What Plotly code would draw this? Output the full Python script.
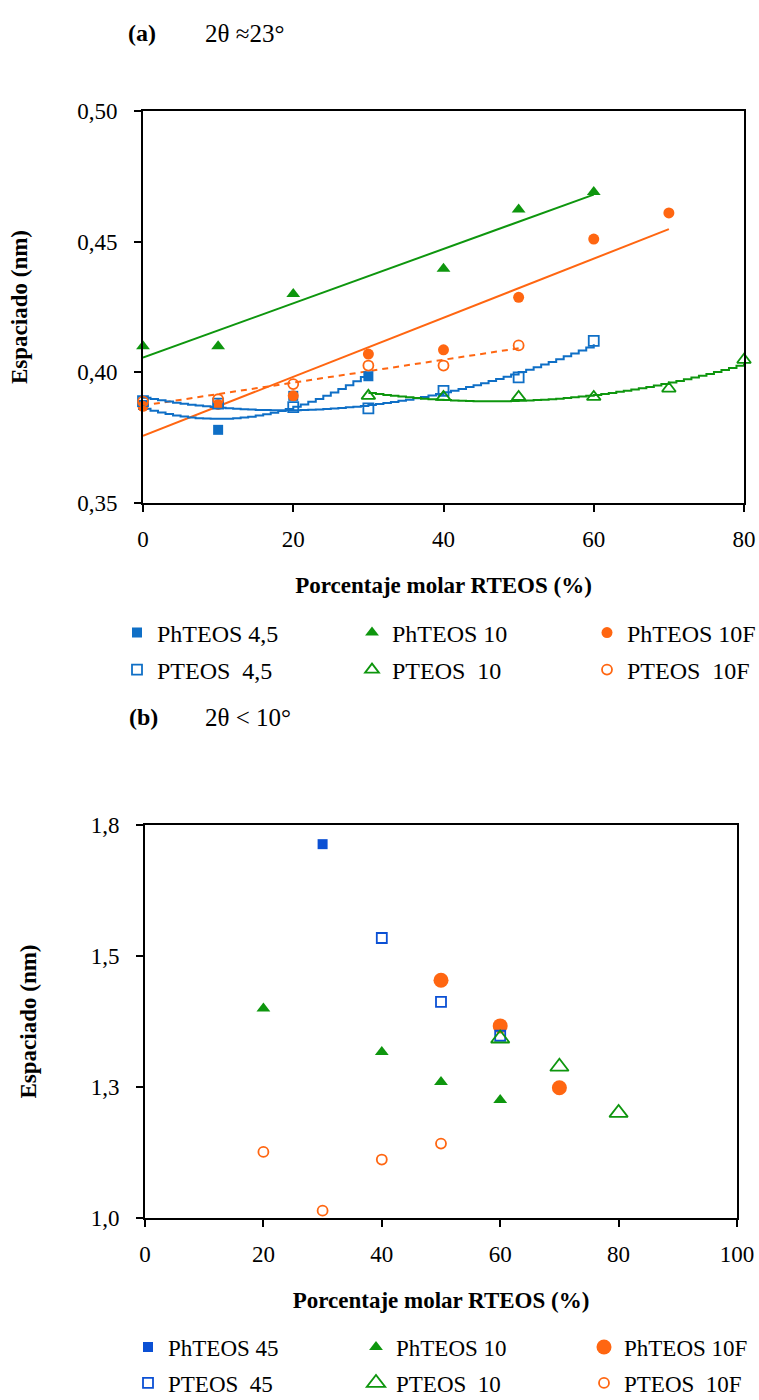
import numpy as np
import plotly.graph_objects as go

# ---------------- Panel (a): 2θ ≈ 23° ----------------
x_a_ph45 = [0, 10, 20, 30]
y_a_ph45 = [0.3875, 0.378, 0.391, 0.3985]
x_a_p45 = [0, 10, 20, 30, 40, 50, 60]
y_a_p45 = [0.389, 0.388, 0.3867, 0.3862, 0.3929, 0.3981, 0.412]
x_a_ph10 = [0, 10, 20, 40, 50, 60]
y_a_ph10 = [0.410, 0.410, 0.430, 0.4396, 0.4623, 0.469]
x_a_p10 = [30, 40, 50, 60, 70, 80]
y_a_p10 = [0.391, 0.3906, 0.3906, 0.3906, 0.3938, 0.4048]
x_a_ph10f = [0, 10, 20, 30, 40, 50, 60, 70]
y_a_ph10f = [0.387, 0.3877, 0.391, 0.407, 0.4086, 0.4287, 0.451, 0.461]
x_a_p10f = [0, 10, 20, 30, 40, 50]
y_a_p10f = [0.3888, 0.3897, 0.3955, 0.4026, 0.4026, 0.4103]

# ---------------- Panel (b): 2θ < 10° ----------------
x_b_ph45 = [30]
y_b_ph45 = [1.761]
x_b_p45 = [40, 50, 60]
y_b_p45 = [1.570, 1.440, 1.371]
x_b_ph10 = [20, 40, 50, 60]
y_b_ph10 = [1.4265, 1.338, 1.277, 1.240]
x_b_p10 = [60, 70, 80]
y_b_p10 = [1.3654, 1.308, 1.214]
x_b_ph10f = [50, 60, 70]
y_b_ph10f = [1.484, 1.391, 1.265]
x_b_p10f = [20, 30, 40, 50]
y_b_p10f = [1.1346, 1.015, 1.119, 1.1515]

# tick labels
ticks_a_x = [0, 20, 40, 60, 80]
ticks_a_y = [0.35, 0.40, 0.45, 0.50]
labels_a_y = ["0,35", "0,40", "0,45", "0,50"]
ticks_b_x = [0, 20, 40, 60, 80, 100]
ticks_b_y = [1.0, 1.2667, 1.5333, 1.8]
labels_b_y = ["1,0", "1,3", "1,5", "1,8"]

BLUE_A = "#0F6FC6"
BLUE_B = "#0B50D4"
GREEN = "#0E960E"
ORANGE = "#FF6611"

W, H = 759, 1400
FONT = "Liberation Serif"

fig = go.Figure()


def fit_curve(xs, ys, deg, step=None):
    c = np.polyfit(xs, ys, deg)
    if step is None:
        xx = np.array([min(xs), max(xs)], dtype=float)
    else:
        xx = np.arange(min(xs), max(xs) + 1e-9, step)
    return xx, np.polyval(c, xx)


# trend lines panel (a)
xx, yy = fit_curve(x_a_ph10, y_a_ph10, 1)
fig.add_trace(go.Scatter(x=xx, y=yy, mode="lines", line=dict(color=GREEN, width=2),
                         showlegend=False, hoverinfo="skip"))
xx, yy = fit_curve(x_a_ph10f, y_a_ph10f, 1)
fig.add_trace(go.Scatter(x=xx, y=yy, mode="lines", line=dict(color=ORANGE, width=2),
                         showlegend=False, hoverinfo="skip"))
xx, yy = fit_curve(x_a_p10f, y_a_p10f, 1)
fig.add_trace(go.Scatter(x=xx, y=yy, mode="lines", line=dict(color=ORANGE, width=2, dash="6px,5px"),
                         showlegend=False, hoverinfo="skip"))
xx, yy = fit_curve(x_a_ph45, y_a_ph45, 2, step=1)
fig.add_trace(go.Scatter(x=xx, y=yy, mode="lines", line=dict(color=BLUE_A, width=2, shape="hv"),
                         showlegend=False, hoverinfo="skip"))
xx, yy = fit_curve(x_a_p45, y_a_p45, 2, step=1)
fig.add_trace(go.Scatter(x=xx, y=yy, mode="lines", line=dict(color=BLUE_A, width=2, shape="hv"),
                         showlegend=False, hoverinfo="skip"))
xx, yy = fit_curve(x_a_p10, y_a_p10, 2, step=1)
fig.add_trace(go.Scatter(x=xx, y=yy, mode="lines", line=dict(color=GREEN, width=2, shape="hv"),
                         showlegend=False, hoverinfo="skip"))


def pts(x, y, name, symbol, color, size, legend, xa="x", ya="y", open_=False):
    mk = dict(symbol=symbol, color=color, size=size)
    if open_:
        mk["line"] = dict(color=color, width=1.8)
    else:
        mk["line"] = dict(width=0)
    fig.add_trace(go.Scatter(x=x, y=y, mode="markers", name=name, marker=mk,
                             legend=legend, xaxis=xa, yaxis=ya, cliponaxis=False))


# markers panel (a)
pts(x_a_ph45, y_a_ph45, "PhTEOS 4,5", "square", BLUE_A, 10, "legend")
pts(x_a_ph10, y_a_ph10, "PhTEOS 10", "triangle-up", GREEN, 12, "legend")
pts(x_a_ph10f, y_a_ph10f, "PhTEOS 10F", "circle", ORANGE, 11, "legend")
pts(x_a_p45, y_a_p45, "PTEOS  4,5", "square-open", BLUE_A, 10, "legend2", open_=True)
pts(x_a_p10, y_a_p10, "PTEOS  10", "triangle-up-open", GREEN, 12, "legend2", open_=True)
pts(x_a_p10f, y_a_p10f, "PTEOS  10F", "circle-open", ORANGE, 10, "legend2", open_=True)

# markers panel (b)
pts(x_b_ph45, y_b_ph45, "PhTEOS 45", "square", BLUE_B, 10, "legend3", "x2", "y2")
pts(x_b_ph10, y_b_ph10, "PhTEOS 10", "triangle-up", GREEN, 12, "legend3", "x2", "y2")
pts(x_b_ph10f, y_b_ph10f, "PhTEOS 10F", "circle", ORANGE, 15, "legend3", "x2", "y2")
pts(x_b_p45, y_b_p45, "PTEOS  45", "square-open", BLUE_B, 10, "legend4", "x2", "y2", open_=True)
pts(x_b_p10, y_b_p10, "PTEOS  10", "triangle-up-open", GREEN, 16, "legend4", "x2", "y2", open_=True)
pts(x_b_p10f, y_b_p10f, "PTEOS  10F", "circle-open", ORANGE, 10, "legend4", "x2", "y2", open_=True)

axis_common = dict(showline=True, linecolor="black", linewidth=2, mirror=True,
                   ticks="outside", ticklen=7, tickwidth=2, tickcolor="black",
                   showgrid=False, zeroline=False, tickfont=dict(family=FONT, size=23, color="black"))

title_font = dict(family=FONT, size=23, color="black")


def leg(xpx, ypx, ew=190, fs=24):
    return dict(orientation="h", x=xpx / W, xanchor="left", y=1 - ypx / H, yanchor="middle",
                entrywidth=ew, entrywidthmode="pixels", bgcolor="rgba(0,0,0,0)",
                font=dict(family=FONT, size=fs, color="black"), itemsizing="trace")


fig.update_layout(
    width=W, height=H,
    margin=dict(l=0, r=0, t=0, b=0, autoexpand=False),
    plot_bgcolor="white", paper_bgcolor="white",
    separators=",.",
    font=dict(family=FONT, size=23, color="black"),
    xaxis=dict(domain=[143 / W, 744 / W], range=[0, 80], tickvals=ticks_a_x, anchor="y",
               ticklabelstandoff=7,
               title=dict(text="<b>Porcentaje molar RTEOS (%)</b>", font=title_font, standoff=26),
               **axis_common),
    yaxis=dict(domain=[1 - 503 / H, 1 - 111 / H], range=[0.35, 0.50], tickvals=ticks_a_y,
               ticktext=labels_a_y, anchor="x", ticklabelstandoff=12,
               title=dict(text="<b>Espaciado (nm)</b>", font=title_font, standoff=43),
               **axis_common),
    xaxis2=dict(domain=[145 / W, 737 / W], range=[0, 100], tickvals=ticks_b_x, anchor="y2",
                ticklabelstandoff=7,
                title=dict(text="<b>Porcentaje molar RTEOS (%)</b>", font=title_font, standoff=26),
                **axis_common),
    yaxis2=dict(domain=[1 - 1218 / H, 1 - 825 / H], range=[1.0, 1.8], tickvals=ticks_b_y,
                ticktext=labels_b_y, anchor="x2", ticklabelstandoff=12,
                title=dict(text="<b>Espaciado (nm)</b>", font=title_font, standoff=48),
                **axis_common),
    legend=leg(117, 633),
    legend2=leg(117, 670),
    legend3=leg(128, 1347, ew=183, fs=23),
    legend4=leg(128, 1383, ew=183, fs=23),
    annotations=[
        dict(text="<b>(a)</b>", x=142 / W, y=1 - 33 / H, xref="paper", yref="paper",
             xanchor="center", yanchor="middle", showarrow=False, font=dict(family=FONT, size=24)),
        dict(text="2θ ≈23°", x=203 / W, y=1 - 33 / H, xref="paper", yref="paper",
             xanchor="left", yanchor="middle", showarrow=False, font=dict(family=FONT, size=25)),
        dict(text="<b>(b)</b>", x=143 / W, y=1 - 717 / H, xref="paper", yref="paper",
             xanchor="center", yanchor="middle", showarrow=False, font=dict(family=FONT, size=24)),
        dict(text="2θ < 10°", x=203 / W, y=1 - 717 / H, xref="paper", yref="paper",
             xanchor="left", yanchor="middle", showarrow=False, font=dict(family=FONT, size=25)),
    ],
)

fig.write_html("out.html")
